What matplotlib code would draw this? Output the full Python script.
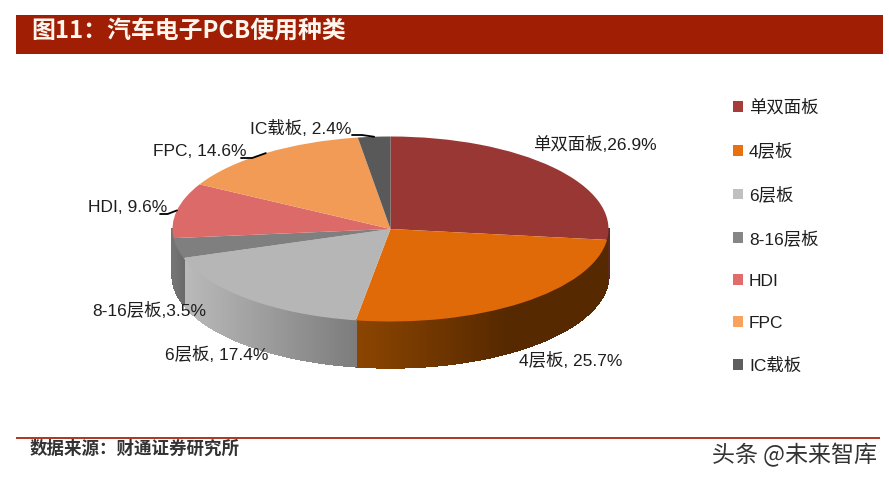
import numpy as np
import matplotlib
matplotlib.use("Agg")
import matplotlib.pyplot as plt
from matplotlib.collections import PolyCollection
from matplotlib.colors import to_rgb
from matplotlib.patches import Rectangle
from matplotlib.transforms import Affine2D

categories = ["单双面板", "4层板", "6层板", "8-16层板", "HDI", "FPC", "IC载板"]
shares = [26.9, 25.7, 17.4, 3.5, 9.6, 14.6, 2.4]
label_texts = ["单双面板,26.9%", "4层板, 25.7%", "6层板, 17.4%", "8-16层板,3.5%",
               "HDI, 9.6%", "FPC, 14.6%", "IC载板, 2.4%"]
title_text = "图11：汽车电子PCB使用种类"
source_text = "数据来源：财通证券研究所"
mark_text = "头条 @未来智库"

top_colors = ["#993735", "#E06A08", "#B6B6B6", "#7F7F7F", "#DB6A68", "#F29B57", "#595959"]
legend_colors = ["#A63C3A", "#E8700F", "#C0C0C0", "#868686", "#E06C6C", "#F8A25E", "#5E5E5E"]
side_left = ["#5A2A20", "#8C4500", "#BABABA", "#747474", "#747474", "#8A5A30", "#444444"]
side_right = ["#5A2A20", "#572900", "#7C7C7C", "#6A6A6A", "#747474", "#8A5A30", "#444444"]

W, H = 889, 479
CX, CY, RX, RY, DEPTH = 390.5, 229.0, 218.0, 92.5, 46.0

plt.rcParams["font.family"] = ["Liberation Sans", "Noto Sans CJK SC", "DejaVu Sans"]
fig = plt.figure(figsize=(W / 100, H / 100), dpi=100)
ax = fig.add_axes([0, 0, 1, 1])
pix = Affine2D().scale(1 / W, -1 / H).translate(0, 1) + fig.transFigure

# Flat top of the pie: x/y units are stretched to the ellipse radii by the limits below.
wedges, _ = ax.pie(shares, colors=top_colors, startangle=90, counterclock=False,
                   radius=1, wedgeprops={"linewidth": 0}, normalize=True)
for w in wedges:
    w.set_zorder(3)
ax.set_aspect("auto")
ax.set_xlim(-CX / RX, (W - CX) / RX)
ax.set_ylim((CY - H) / RY, CY / RY)
ax.axis("off")

# Shaded rim below the front half
fractions = np.array(shares) / np.sum(shares)
edges = np.concatenate([[0], np.cumsum(fractions)]) * 2 * np.pi
depth_u = DEPTH / RY
polys, facecolors = [], []
for a0, a1, cl, cr in zip(edges[:-1], edges[1:], side_left, side_right):
    lo, hi = max(a0, np.pi / 2), min(a1, 3 * np.pi / 2)
    if hi <= lo:
        continue
    ts = np.linspace(lo, hi, max(int((hi - lo) * 120), 2) + 1)
    xs = np.sin(ts)
    ys = np.cos(ts)
    x_l, x_r = xs.min(), xs.max()
    c0, c1 = np.array(to_rgb(cl)), np.array(to_rgb(cr))
    for i in range(len(ts) - 1):
        f = 0.0 if x_r == x_l else (0.5 * (xs[i] + xs[i + 1]) - x_l) / (x_r - x_l)
        f = min(1.0, f * 1.7) if cl == "#8C4500" else f
        polys.append([(xs[i], ys[i]), (xs[i + 1], ys[i + 1]),
                      (xs[i + 1], ys[i + 1] - depth_u), (xs[i], ys[i] - depth_u)])
        facecolors.append(c0 + (c1 - c0) * f)
ax.add_collection(PolyCollection(polys, facecolors=facecolors, edgecolors=facecolors,
                                 linewidths=1.0, antialiaseds=False, zorder=2))

# Header band and footer
fig.add_artist(Rectangle((16, 15), 867, 39, transform=pix, facecolor="#A01E03", edgecolor="none"))
fig.text(31, 32, title_text, transform=pix, color="#FFF6EE", fontsize=17.2, fontweight="bold",
         va="center", ha="left", family=["Noto Sans CJK SC"])
fig.add_artist(Rectangle((16, 437.5), 864, 2, transform=pix, facecolor="#B03A28", edgecolor="none"))
fig.text(30, 449, source_text, transform=pix, color="#333333", fontsize=12.6, fontweight="bold",
         va="center", ha="left", family=["Noto Sans CJK SC"])
fig.text(712, 455, mark_text, transform=pix, color="#333333", fontsize=16.6,
         va="center", ha="left", family=["Noto Sans CJK SC"])

# Data labels
label_pos = [(533, 145), (519, 361), (165, 355), (92, 311), (88, 208), (153, 152), (250, 128)]
for s, (lx, ly) in zip(label_texts, label_pos):
    fig.text(lx, ly, s, transform=pix, fontsize=12.5, color="#1E1E1E", va="center", ha="left")

# Leader lines from label to the middle of the slice's rim
leader_starts = {4: (160, 214), 5: (241, 158), 6: (352, 135)}
mids = 0.5 * (edges[:-1] + edges[1:])
for i, (sx, sy) in leader_starts.items():
    ex, ey = np.sin(mids[i]), np.cos(mids[i])
    start = ax.transData.inverted().transform(pix.transform((sx, sy)))
    kink = start + np.array([(ex - start[0]) * 0.45, 0.0])
    ax.plot([start[0], kink[0], ex], [start[1], kink[1], ey], color="black", lw=1.3, zorder=4,
            solid_capstyle="round")

# Legend
handles = [Rectangle((0, 0), 1, 1, facecolor=c, edgecolor="none") for c in legend_colors]
leg = fig.legend(handles, categories, loc="upper left",
                 bbox_to_anchor=(726 / W, 1 - 92 / H),
                 frameon=False, fontsize=12.5, labelcolor="#1E1E1E", handlelength=0.58,
                 handleheight=0.58, handletextpad=0.35, labelspacing=1.55, borderpad=0.4,
                 borderaxespad=0)

fig.savefig("out.png", dpi=100)
